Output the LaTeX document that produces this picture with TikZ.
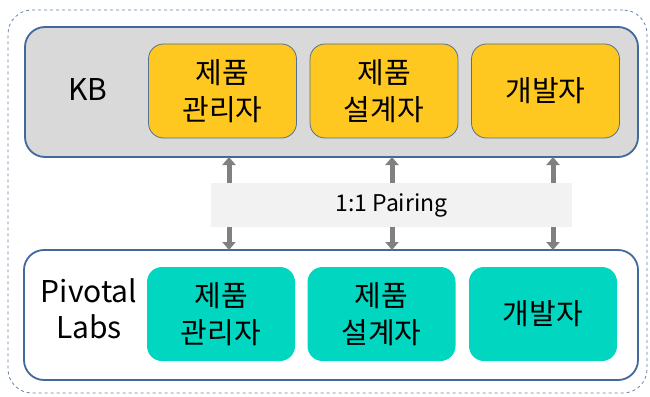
\documentclass[tikz,border=0pt]{standalone}
\usepackage{fontspec}
\setmainfont{Noto Sans CJK KR}
\usetikzlibrary{arrows.meta}
\definecolor{bordblue}{RGB}{65,105,155}
\definecolor{dashblue}{RGB}{100,130,170}
\definecolor{kbgray}{RGB}{217,217,217}
\definecolor{boxyellow}{RGB}{255,200,32}
\definecolor{boxteal}{RGB}{0,214,192}
\definecolor{pairgray}{RGB}{242,242,242}
\definecolor{arrgray}{RGB}{128,128,128}
\tikzset{
  group/.style={draw=bordblue, line width=1.8pt, rounded corners=20pt, minimum height=130pt, inner sep=0pt},
  ybox/.style={draw=bordblue!70!gray, line width=0.8pt, fill=boxyellow, rounded corners=15pt, minimum width=148pt, minimum height=94pt, inner sep=0pt, align=center, font=\fontsize{29}{37}\selectfont},
  tbox/.style={fill=boxteal, rounded corners=15pt, minimum width=148pt, minimum height=94pt, inner sep=0pt, align=center, font=\fontsize{29}{37}\selectfont},
  lbl/.style={align=center, inner sep=0pt, font=\fontsize{30}{36}\selectfont},
  pairarrow/.style={draw=arrgray, line width=5pt, {Triangle[width=13pt,length=8pt]}-{Triangle[width=13pt,length=8pt]}},
}
\begin{document}
\begin{tikzpicture}[x=1pt,y=-1pt]
\useasboundingbox (0,0) rectangle (650,396);
\node[draw=dashblue, dashed, line width=0.8pt, rounded corners=24pt, minimum width=639pt, minimum height=383pt, inner sep=0pt] (outer) at (327.5,201.5) {};
\node[group, fill=kbgray, minimum width=613pt] (kb) at (331.5,92) {};
\node[group, fill=white, minimum width=614pt] (pl) at (331,315) {};
\node[lbl] (kbl) at (88,90) {KB};
\node[lbl] (pll) at (89,309) {Pivotal\\Labs};
\node[ybox] (y1) at (222.5,91) {제품\\관리자};
\node[ybox] (y2) at (384,91) {제품\\설계자};
\node[ybox] (y3) at (545.5,91) {개발자};
\node[tbox] (t1) at (221,314) {제품\\관리자};
\node[tbox] (t2) at (381.5,314) {제품\\설계자};
\node[tbox] (t3) at (543,314) {개발자};
\coordinate (a1) at (229,157);
\coordinate (b1) at (229,250);
\coordinate (a2) at (392,157);
\coordinate (b2) at (392,250);
\coordinate (a3) at (553,157);
\coordinate (b3) at (553,250);
\draw[pairarrow] (a1) -- (b1);
\draw[pairarrow] (a2) -- (b2);
\draw[pairarrow] (a3) -- (b3);
\node[fill=pairgray, minimum width=361pt, minimum height=44pt, inner sep=0pt, font=\fontsize{23}{26}\selectfont] (pair) at (391.5,205) {1:1 Pairing};
\end{tikzpicture}
\end{document}
